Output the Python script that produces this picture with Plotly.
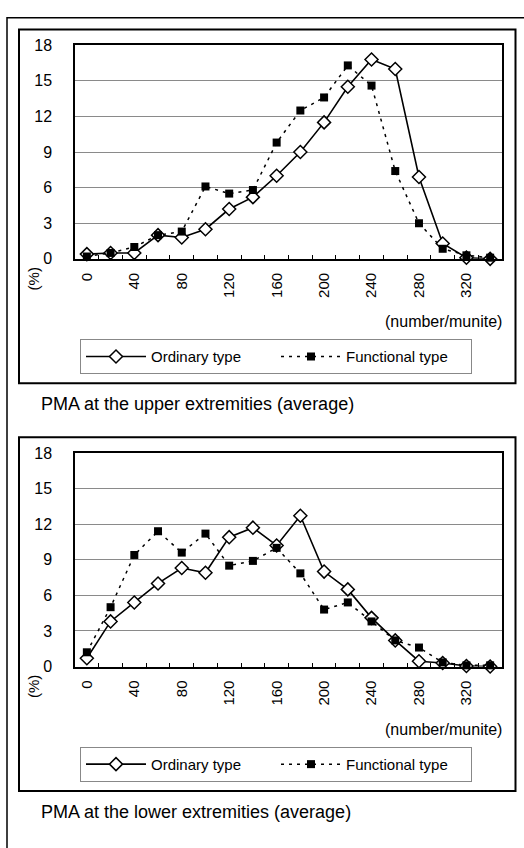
import plotly.graph_objects as go

W, H = 524, 848

categories = ["0", "20", "40", "60", "80", "100", "120", "140", "160", "180",
              "200", "220", "240", "260", "280", "300", "320", "340"]
tick_labels = ["0", "", "40", "", "80", "", "120", "", "160", "", "200", "",
               "240", "", "280", "", "320", ""]
y_ticks = [0, 3, 6, 9, 12, 15, 18]

upper_ordinary = [0.4, 0.5, 0.5, 2.0, 1.8, 2.5, 4.2, 5.2, 7.0, 9.0,
                  11.5, 14.5, 16.8, 16.0, 6.9, 1.3, 0.1, 0.0]
upper_functional = [0.2, 0.5, 1.0, 2.0, 2.3, 6.1, 5.5, 5.8, 9.8, 12.5,
                    13.6, 16.3, 14.6, 7.4, 3.0, 0.85, 0.3, 0.1]

lower_ordinary = [0.7, 3.8, 5.4, 7.0, 8.3, 7.9, 10.9, 11.7, 10.2, 12.7,
                  8.0, 6.5, 4.1, 2.2, 0.45, 0.3, 0.05, 0.0]
lower_functional = [1.2, 5.0, 9.4, 11.4, 9.6, 11.2, 8.5, 8.9, 10.0, 7.85,
                    4.8, 5.4, 3.8, 2.2, 1.6, 0.35, 0.1, 0.1]

captions = ["PMA at the upper extremities (average)",
            "PMA at the lower extremities (average)"]
series_names = ["Ordinary type", "Functional type"]

FONT = "Liberation Sans"


def px(x):
    return x / W


def py(y):
    return 1 - y / H


fig = go.Figure()

panels = [
    (upper_ordinary, upper_functional, "x", "y", "legend"),
    (lower_ordinary, lower_functional, "x2", "y2", "legend2"),
]

for ordv, funv, xa, ya, lg in panels:
    fig.add_trace(go.Scatter(
        x=categories, y=ordv, name=series_names[0], xaxis=xa, yaxis=ya,
        legend=lg, mode="lines+markers",
        line=dict(color="black", width=1.6),
        marker=dict(symbol="diamond", size=10, color="white",
                    line=dict(color="black", width=1.5)),
        cliponaxis=False,
    ))
    fig.add_trace(go.Scatter(
        x=categories, y=funv, name=series_names[1], xaxis=xa, yaxis=ya,
        legend=lg, mode="lines+markers",
        line=dict(color="black", width=1.5, dash="3px,5px"),
        marker=dict(symbol="square", size=8, color="black",
                    line=dict(color="black", width=0)),
        cliponaxis=False,
    ))

xaxis_common = dict(
    type="category", categoryorder="array", categoryarray=categories,
    range=[-0.5, 17.5], tickmode="array", tickvals=categories,
    ticktext=tick_labels, tickangle=-90, tickson="boundaries",
    ticks="inside", ticklen=4, tickcolor="black", tickwidth=1,
    showgrid=False, showline=True, linecolor="black", linewidth=2,
    mirror=True, zeroline=False, ticklabelstandoff=6,
    tickfont=dict(family=FONT, size=15, color="black"),
)
yaxis_common = dict(
    range=[0, 18], tickmode="array", tickvals=y_ticks, ticks="",
    showgrid=True, gridcolor="#8a8a8a", gridwidth=1,
    showline=True, linecolor="black", linewidth=1.5, mirror=True,
    zeroline=False, ticklabelstandoff=18,
    tickfont=dict(family=FONT, size=16, color="black"),
)

legend_common = dict(
    orientation="h", xanchor="left", yanchor="top",
    bordercolor="#888888", borderwidth=1, bgcolor="white",
    font=dict(family=FONT, size=15, color="black"),
    itemwidth=60, entrywidth=120, entrywidthmode="pixels", itemclick=False,
)

shapes = [
    dict(type="rect", xref="paper", yref="paper", x0=px(7), x1=px(540),
         y0=py(10), y1=py(870), line=dict(color="black", width=1.5)),
]
annotations = []
for off, cap in zip([0, 416], captions):
    shapes.append(dict(type="rect", xref="paper", yref="paper",
                       x0=px(19), x1=px(515.5), y0=py(22 + off), y1=py(383 + off),
                       line=dict(color="black", width=2)))
    annotations.append(dict(text="(%)", xref="paper", yref="paper",
                            x=px(33), y=py(277 + off), textangle=-90,
                            showarrow=False, xanchor="center", yanchor="middle",
                            font=dict(family=FONT, size=15, color="black")))
    annotations.append(dict(text="(number/munite)", xref="paper", yref="paper",
                            x=px(504), y=py(320 + off), showarrow=False,
                            xanchor="right", yanchor="middle",
                            font=dict(family=FONT, size=16, color="black")))
    annotations.append(dict(text=cap, xref="paper", yref="paper",
                            x=px(39), y=py(404 + off), showarrow=False,
                            xanchor="left", yanchor="middle",
                            font=dict(family=FONT, size=18, color="black")))

fig.update_layout(
    width=W, height=H, margin=dict(l=0, r=0, t=0, b=0),
    paper_bgcolor="white", plot_bgcolor="white",
    xaxis=dict(domain=[px(75), px(502)], anchor="y", **xaxis_common),
    yaxis=dict(domain=[py(256), py(38)], anchor="x", **yaxis_common),
    xaxis2=dict(domain=[px(75), px(502)], anchor="y2", **xaxis_common),
    yaxis2=dict(domain=[py(672), py(454)], anchor="x2", **yaxis_common),
    legend=dict(x=px(80), y=py(338), **legend_common),
    legend2=dict(x=px(80), y=py(754), **legend_common),
    shapes=shapes, annotations=annotations, showlegend=True,
)

fig.write_html("out.html", config={"displayModeBar": False},
               post_script="document.body.style.margin='0';")
